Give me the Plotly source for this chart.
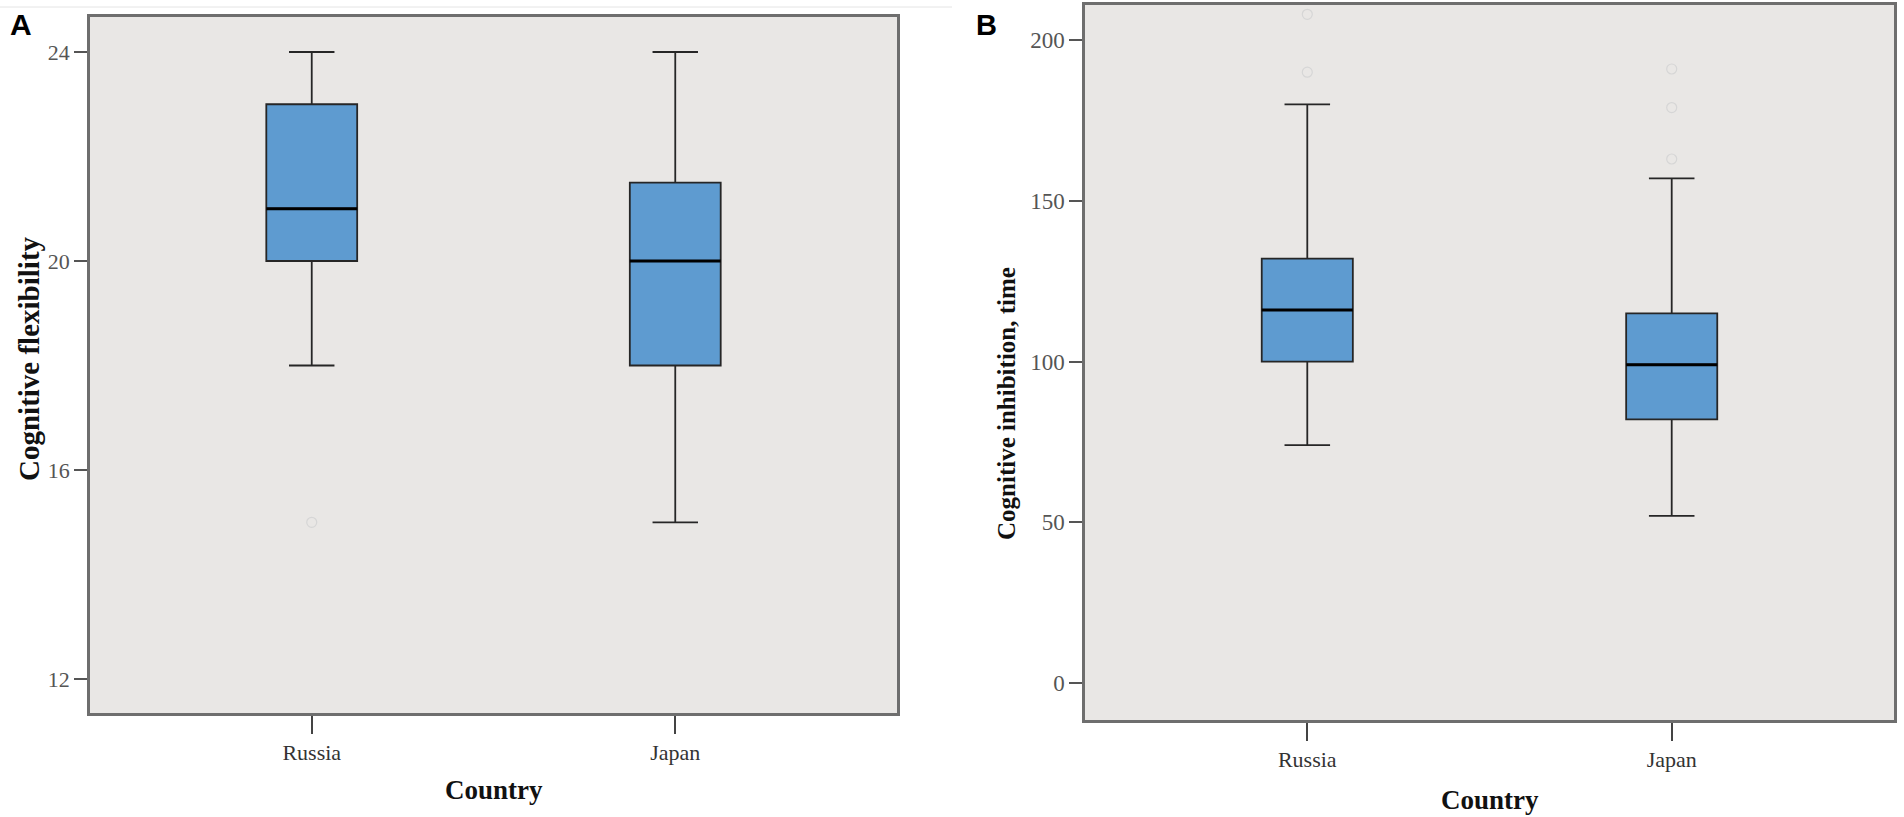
import plotly.graph_objects as go

# categories and box statistics
countries = ["Russia", "Japan"]

# panel A: cognitive flexibility
flex_low = [18, 15]
flex_q1 = [20, 18]
flex_median = [21, 20]
flex_q3 = [23, 21.5]
flex_high = [24, 24]
flex_outliers = [[15], []]
flex_ticks = [12, 16, 20, 24]

# panel B: cognitive inhibition, time
inhib_low = [74, 52]
inhib_q1 = [100, 82]
inhib_median = [116, 99]
inhib_q3 = [132, 115]
inhib_high = [180, 157]
inhib_outliers = [[190, 208], [163, 179, 191]]
inhib_ticks = [0, 50, 100, 150, 200]

box_fill = "#5E9BD0"
box_line = "#262626"
bg = "#E9E7E5"
frame = "#6e6e6e"
box_w = 0.25

fig = go.Figure()


def add_panel(fig, xa, ya, low, q1, med, q3, high, outliers):
    for i, name in enumerate(countries):
        fig.add_trace(go.Box(
            x=[i], q1=[q1[i]], median=[med[i]], q3=[q3[i]],
            lowerfence=[low[i]], upperfence=[high[i]],
            width=box_w, whiskerwidth=0.5,
            fillcolor=box_fill, line=dict(color=box_line, width=1.8),
            boxpoints=False, name=name, showlegend=False,
            xaxis=xa, yaxis=ya))
        # thick median bar like SPSS
        fig.add_trace(go.Scatter(
            x=[i - box_w / 2, i + box_w / 2], y=[med[i], med[i]],
            mode="lines", line=dict(color="black", width=3),
            showlegend=False, hoverinfo="skip", xaxis=xa, yaxis=ya))
        if outliers[i]:
            fig.add_trace(go.Scatter(
                x=[i] * len(outliers[i]), y=outliers[i], mode="markers",
                marker=dict(symbol="circle-open", size=10, color="#d6d6d6",
                            line=dict(width=1.2)),
                showlegend=False, xaxis=xa, yaxis=ya))


add_panel(fig, "x", "y", flex_low, flex_q1, flex_median, flex_q3, flex_high, flex_outliers)
add_panel(fig, "x2", "y2", inhib_low, inhib_q1, inhib_median, inhib_q3, inhib_high, inhib_outliers)

W, H = 1904, 817
serif = "Liberation Serif, Times New Roman, serif"

xcommon = dict(range=[-0.61, 1.61], tickvals=[0, 1], ticktext=countries,
               showgrid=False, zeroline=False, showline=True, mirror=True,
               linecolor=frame, linewidth=2.5, ticks="outside", ticklen=18,
               tickwidth=1.5, tickcolor="#444",
               tickfont=dict(family=serif, size=22, color="#333"))
ycommon = dict(showgrid=False, zeroline=False, showline=True, mirror=True,
               linecolor=frame, linewidth=2.5, ticks="outside", ticklen=13,
               tickwidth=2, tickcolor="#555")

fig.update_layout(
    width=W, height=H, autosize=False,
    margin=dict(l=0, r=0, t=0, b=0),
    paper_bgcolor="white", plot_bgcolor=bg,
    xaxis=dict(domain=[90 / W, 897 / W], anchor="y", **xcommon),
    yaxis=dict(domain=[1 - 713 / H, 1 - 17 / H], anchor="x",
               range=[11.35, 24.67], tickvals=flex_ticks,
               tickfont=dict(family=serif, size=22, color="#555"), **ycommon),
    xaxis2=dict(domain=[1085 / W, 1894 / W], anchor="y2", **xcommon),
    yaxis2=dict(domain=[1 - 720 / H, 1 - 5 / H], anchor="x2",
                range=[-11.5, 210.9], tickvals=inhib_ticks,
                tickfont=dict(family=serif, size=23, color="#555"), **ycommon),
)

fig.add_shape(type="line", xref="paper", yref="paper", x0=0, x1=0.5,
              y0=1 - 7 / H, y1=1 - 7 / H, line=dict(color="#e4e4e4", width=1))

title_font = dict(family=serif, size=27, color="#111")
annotations = [
    dict(text="<b>A</b>", x=21 / W, y=1 - 24 / H, font=dict(family="Liberation Sans, Arial", size=30, color="black")),
    dict(text="<b>B</b>", x=986 / W, y=1 - 25 / H, font=dict(family="Liberation Sans, Arial", size=29, color="black")),
    dict(text="<b>Country</b>", x=493.5 / W, y=1 - 790 / H, font=title_font),
    dict(text="<b>Country</b>", x=1489.5 / W, y=1 - 800 / H, font=title_font),
    dict(text="<b>Cognitive flexibility</b>", x=29 / W, y=1 - 359 / H, textangle=-90,
         font=dict(family=serif, size=29, color="#111")),
    dict(text="<b>Cognitive inhibition, time</b>", x=1006 / W, y=1 - 404 / H, textangle=-90,
         font=dict(family=serif, size=25, color="#111")),
]
for a in annotations:
    fig.add_annotation(xref="paper", yref="paper", showarrow=False,
                       xanchor="center", yanchor="middle", **a)

# drop the browser's default body margin so the figure fills the window
fig.write_html("out.html", config={"displayModeBar": False},
               post_script="document.body.style.margin='0px';")
